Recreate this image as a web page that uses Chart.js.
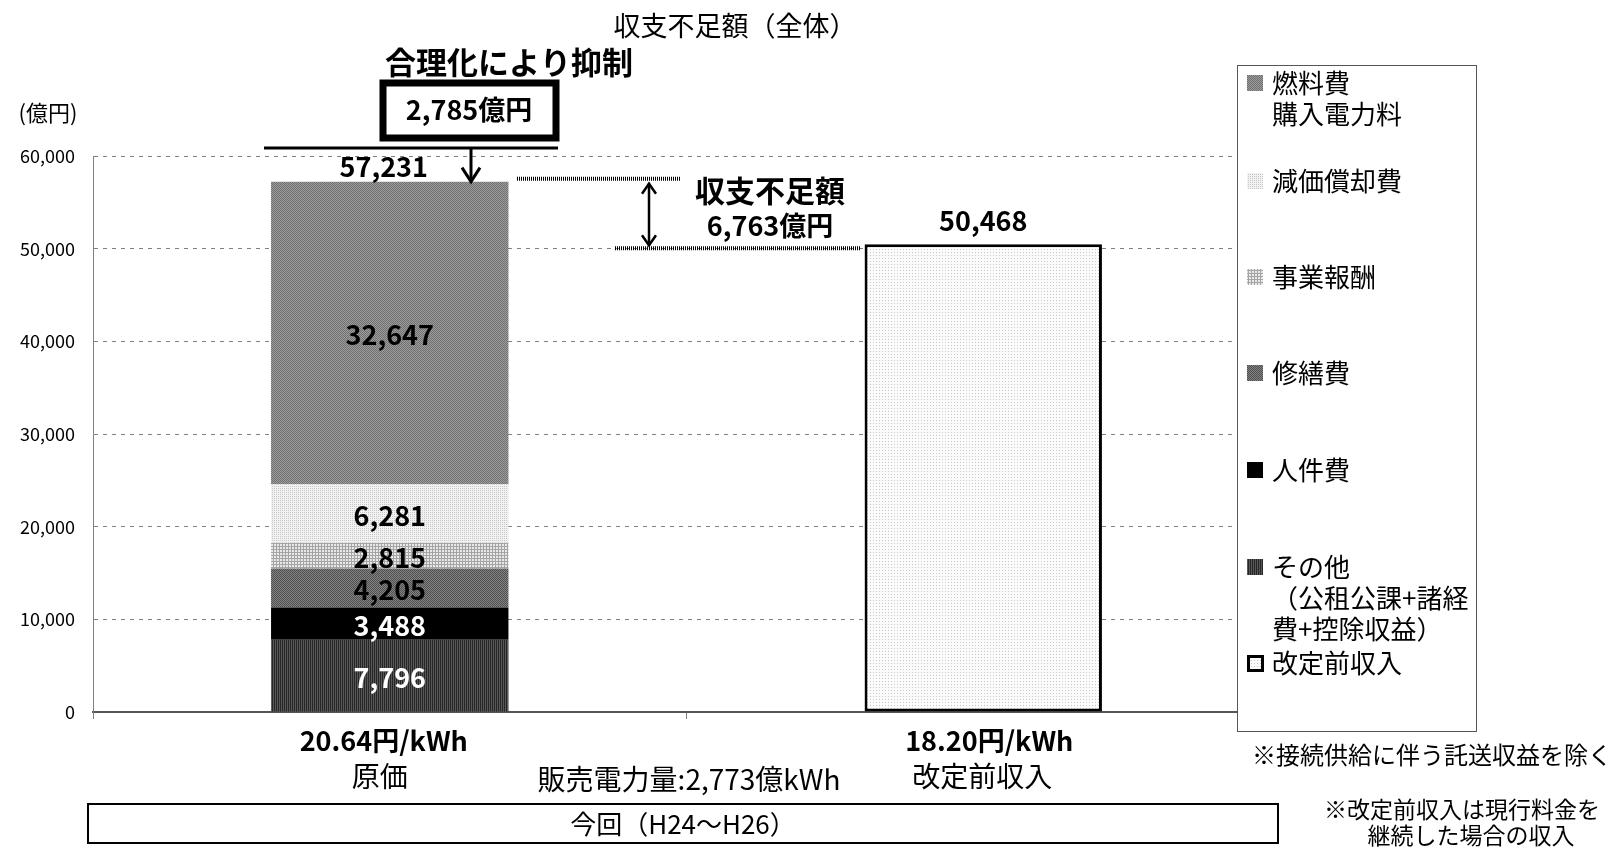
<!DOCTYPE html>
<html>
<head>
<meta charset="utf-8">
<script src="https://cdn.jsdelivr.net/npm/chart.js@4/dist/chart.umd.min.js"></script>
<style>
  html, body { margin: 0; padding: 0; background: #fff; }
  #wrap { width: 1621px; height: 847px; }
</style>
</head>
<body>
<div id="wrap"><canvas id="chart" width="1621" height="847"></canvas></div>
<script>
// --- Dados ---
const categories = ['原価', '改定前収入'];
const priceLabels = ['20.64円/kWh', '18.20円/kWh'];
const costNames = ['その他', '人件費', '修繕費', '事業報酬', '減価償却費', '燃料費'];
const costLegend = [['その他', '（公租公課+諸経', '費+控除収益）'], ['人件費'], ['修繕費'], ['事業報酬'], ['減価償却費'], ['燃料費', '購入電力料']];
const costValues = [7796, 3488, 4205, 2815, 6281, 32647];
const revenueValues = [null, 50468];
const totalCost = 57231;
const shortfall = 6763;
const rationalized = 2785;
const yMax = 60000;
const yStep = 10000;

const FONT = '"Noto Sans CJK JP", "Noto Sans", sans-serif';

// --- Texturas ---
function makePattern(bg, fg, w, h, cells) {
    const c = document.createElement('canvas');
    c.width = w; c.height = h;
    const g = c.getContext('2d');
    g.fillStyle = bg; g.fillRect(0, 0, w, h);
    g.fillStyle = fg;
    cells.forEach(([x, y]) => g.fillRect(x, y, 1, 1));
    return g.createPattern(c, 'repeat');
}
const costFills = [
    makePattern('#585858', '#262626', 2, 1, [[0, 0]]),                       // その他
    '#000000',                                                               // 人件費
    makePattern('#848484', '#4e4e4e', 2, 2, [[0, 0], [1, 1]]),               // 修繕費
    makePattern('#e8e8e8', '#a4a4a4', 3, 3, [[0, 0], [1, 0], [2, 0], [0, 1], [0, 2]]), // 事業報酬
    makePattern('#f2f2f2', '#c6c6c6', 2, 2, [[0, 0]]),                       // 減価償却費
    makePattern('#9c9c9c', '#707070', 2, 2, [[0, 0], [1, 1]])                // 燃料費
];
const revenueFill = makePattern('#fbfbfb', '#c8c8c8', 3, 3, [[0, 0]]);

function txt(ctx, s, x, y, font, color, align) {
    ctx.save();
    ctx.font = font;
    ctx.fillStyle = color || '#000';
    ctx.textAlign = align || 'center';
    ctx.textBaseline = 'middle';
    ctx.fillText(s, x, y);
    ctx.restore();
}

function fmt(v) { return v.toLocaleString('en-US'); }

// --- Anotações, rótulos e legenda ---
const overlay = {
    id: 'overlay',
    afterDatasetsDraw(chart) {
        const ctx = chart.ctx;
        const x = chart.scales.x, y = chart.scales.y;
        const x0 = x.getPixelForValue(0), x1 = x.getPixelForValue(1);

        // rótulos dos segmentos
        costValues.forEach((v, i) => {
            const bar = chart.getDatasetMeta(i).data[0];
            const cy = (bar.y + bar.base) / 2 + 2;
            const col = i < 2 ? '#fff' : '#000';
            txt(ctx, fmt(v), x0, cy, 'bold 27px ' + FONT, col);
        });

        const topCost = y.getPixelForValue(totalCost);
        const topRev = y.getPixelForValue(revenueValues[1]);
        txt(ctx, fmt(totalCost), x0 - 6, 167, 'bold 27px ' + FONT);
        txt(ctx, fmt(revenueValues[1]), x1, 221, 'bold 27px ' + FONT);

        // título
        txt(ctx, '収支不足額（全体）', 735, 26, '27px ' + FONT);

        // 合理化により抑制
        txt(ctx, '合理化により抑制', 509, 62, 'bold 31px ' + FONT);
        ctx.save();
        ctx.lineWidth = 7;
        ctx.strokeStyle = '#000';
        ctx.strokeRect(383, 83, 173, 55);
        ctx.restore();
        txt(ctx, fmt(rationalized) + '億円', 469, 110, 'bold 27px ' + FONT);

        ctx.save();
        ctx.strokeStyle = '#000';
        ctx.fillStyle = '#000';
        ctx.lineWidth = 3;
        ctx.beginPath(); ctx.moveTo(264, 148); ctx.lineTo(558, 148); ctx.stroke();
        // seta para baixo
        ctx.beginPath(); ctx.moveTo(471, 148); ctx.lineTo(471, topCost - 2); ctx.stroke();
        ctx.beginPath(); ctx.moveTo(462, topCost - 14); ctx.lineTo(471, topCost); ctx.lineTo(480, topCost - 14); ctx.stroke();

        // linhas pontilhadas do déficit
        ctx.lineWidth = 4;
        ctx.setLineDash([1, 1]);
        ctx.beginPath(); ctx.moveTo(517, topCost - 3); ctx.lineTo(680, topCost - 3); ctx.stroke();
        ctx.beginPath(); ctx.moveTo(615, topRev + 4); ctx.lineTo(860, topRev + 4); ctx.stroke();
        ctx.setLineDash([]);

        // seta dupla
        ctx.lineWidth = 2.5;
        const ay1 = topCost + 2, ay2 = topRev + 1;
        ctx.beginPath(); ctx.moveTo(649, ay1); ctx.lineTo(649, ay2); ctx.stroke();
        ctx.beginPath(); ctx.moveTo(642, ay1 + 10); ctx.lineTo(649, ay1); ctx.lineTo(656, ay1 + 10); ctx.stroke();
        ctx.beginPath(); ctx.moveTo(642, ay2 - 10); ctx.lineTo(649, ay2); ctx.lineTo(656, ay2 - 10); ctx.stroke();
        ctx.restore();
        txt(ctx, '収支不足額', 770, 191, 'bold 30px ' + FONT);
        txt(ctx, fmt(shortfall) + '億円', 770, 226, 'bold 27px ' + FONT);

        // unidade do eixo
        txt(ctx, '(億円)', 48, 113, '22px ' + FONT);

        // rótulos das categorias
        categories.forEach((c, i) => {
            const cx = x.getPixelForValue(i);
            txt(ctx, priceLabels[i], cx - 6 + i * 12, 741, 'bold 27px ' + FONT);
            txt(ctx, c, cx - 10 + i * 9, 776, '28px ' + FONT);
        });
        txt(ctx, '販売電力量:2,773億kWh', 689, 779, '28px ' + FONT);

        // caixa inferior
        ctx.save();
        ctx.lineWidth = 2;
        ctx.strokeStyle = '#000';
        ctx.strokeRect(88, 804, 1190, 39);
        ctx.restore();
        txt(ctx, '今回（H24～H26）', 683, 824, '26px ' + FONT);

        // legenda
        ctx.save();
        ctx.fillStyle = '#fff';
        ctx.fillRect(1237, 65, 240, 667);
        ctx.strokeStyle = '#555';
        ctx.lineWidth = 1;
        ctx.strokeRect(1237.5, 65.5, 239, 666);
        ctx.restore();
        const legendY = [83, 181, 277, 373, 470, 567];
        for (let k = 0; k < costNames.length; k++) {
            const i = costNames.length - 1 - k;
            const ly = legendY[k];
            ctx.fillStyle = costFills[i];
            ctx.fillRect(1247, ly - 8, 16, 16);
            costLegend[i].forEach((line, j) => {
                txt(ctx, line, 1272, ly + j * 31, '26px ' + FONT, '#000', 'left');
            });
        }
        ctx.save();
        ctx.fillStyle = revenueFill;
        ctx.fillRect(1247, 655, 17, 17);
        ctx.lineWidth = 3;
        ctx.strokeStyle = '#000';
        ctx.strokeRect(1248.5, 656.5, 14, 14);
        ctx.restore();
        txt(ctx, '改定前収入', 1272, 663, '26px ' + FONT, '#000', 'left');

        // notas
        txt(ctx, '※接続供給に伴う託送収益を除く', 1612, 755, '24px ' + FONT, '#000', 'right');
        txt(ctx, '※改定前収入は現行料金を', 1462, 809, '23px ' + FONT);
        txt(ctx, '継続した場合の収入', 1471, 835, '23px ' + FONT);
    }
};

const datasets = costValues.map((v, i) => ({
    label: costNames[i],
    data: [v, null],
    backgroundColor: costFills[i],
    borderWidth: 0,
    categoryPercentage: 0.4,
    barPercentage: 1
}));
datasets.push({
    label: categories[1],
    data: revenueValues,
    backgroundColor: revenueFill,
    borderColor: '#000',
    borderWidth: 3,
    borderSkipped: false,
    categoryPercentage: 0.4,
    barPercentage: 1
});

new Chart(document.getElementById('chart'), {
    type: 'bar',
    data: { labels: categories, datasets: datasets },
    options: {
        responsive: false,
        animation: false,
        layout: { padding: { left: 0, right: 341, top: 156, bottom: 135 } },
        plugins: { legend: { display: false }, tooltip: { enabled: false }, title: { display: false } },
        scales: {
            x: {
                stacked: true,
                ticks: { display: false },
                grid: { drawOnChartArea: false, drawTicks: true, tickLength: 7, color: '#808080', offset: true },
                border: { color: '#555', width: 2 },
                afterFit(scale) { scale.height = 0; }
            },
            y: {
                stacked: true,
                min: 0,
                max: yMax,
                ticks: {
                    stepSize: yStep,
                    padding: 18,
                    color: '#000',
                    font: { family: FONT, size: 18 },
                    callback: v => fmt(v)
                },
                grid: { color: '#808080', drawTicks: false, lineWidth: 1 },
                border: { color: '#808080', width: 1, dash: [4, 5] },
                afterFit(scale) { scale.width = 93; }
            }
        }
    },
    plugins: [overlay]
});
</script>
</body>
</html>
